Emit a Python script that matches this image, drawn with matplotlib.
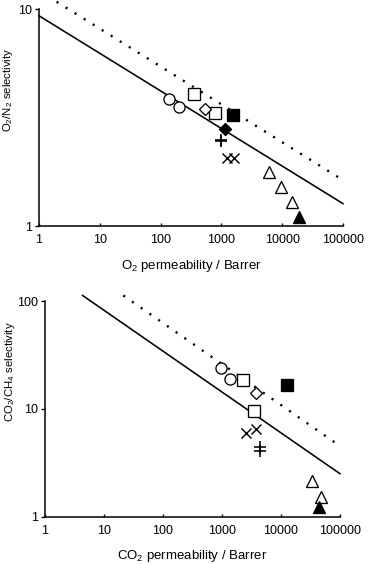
import matplotlib
matplotlib.use('Agg')
from matplotlib import pyplot as plt
from matplotlib.ticker import FixedLocator, FuncFormatter, NullLocator

plt.rcParams['font.family'] = ['Liberation Sans', 'DejaVu Sans']
plt.rcParams['mathtext.fontset'] = 'custom'
plt.rcParams['mathtext.rm'] = 'Liberation Sans'

# O2/N2 data (permeability in Barrer, selectivity)
o2_circ_x = [137, 203]
o2_circ_y = [3.84, 3.52]
o2_osq_x = [354, 785]
o2_osq_y = [4.05, 3.31]
o2_odia_x = [537]
o2_odia_y = [3.45]
o2_fsq_x = [1535]
o2_fsq_y = [3.25]
o2_fdia_x = [1147]
o2_fdia_y = [2.81]
o2_plus_x = [980, 980]
o2_plus_y = [2.50, 2.47]
o2_cross_x = [1222, 1624]
o2_cross_y = [2.06, 2.06]
o2_otri_x = [6050, 9560, 14660]
o2_otri_y = [1.78, 1.52, 1.29]
o2_ftri_x = [19100]
o2_ftri_y = [1.10]
o2_bound91_x = [1, 100000]
o2_bound91_y = [9.31, 1.27]
o2_bound08_x = [1.95, 100000]
o2_bound08_y = [10.8, 1.63]

# CO2/CH4 data
co2_circ_x = [950, 1367]
co2_circ_y = [23.8, 18.8]
co2_osq_x = [2297, 3485]
co2_osq_y = [18.5, 9.6]
co2_odia_x = [3770]
co2_odia_y = [13.9]
co2_fsq_x = [12480]
co2_fsq_y = [16.6]
co2_plus_x = [4400, 4400]
co2_plus_y = [4.40, 4.09]
co2_cross_x = [2552, 3770]
co2_cross_y = [6.0, 6.46]
co2_otri_x = [33950, 47640]
co2_otri_y = [2.16, 1.53]
co2_ftri_x = [44600]
co2_ftri_y = [1.22]
co2_bound91_x = [4.35, 100000]
co2_bound91_y = [113, 2.50]
co2_bound08_x = [21.3, 100000]
co2_bound08_y = [113, 4.52]

xticks = [1, 10, 100, 1000, 10000, 100000]


def draw(ax, d, yticks, ylim):
    ax.plot(d['b91'][0], d['b91'][1], '-', color='black', lw=1.15,
            clip_on=False, zorder=2)
    ax.plot(d['b08'][0], d['b08'][1], color='black', lw=1.7,
            linestyle=(0, (0.9, 3.6)), clip_on=False, zorder=2)
    kw = dict(linestyle='none', markeredgecolor='black', mew=0.95,
              clip_on=False, zorder=3)
    ax.plot(*d['circ'], marker='o', ms=8, mfc='white', **kw)
    ax.plot(*d['osq'], marker='s', ms=8, mfc='white', **kw)
    ax.plot(*d['odia'], marker='D', ms=5.8, mfc='white', **kw)
    ax.plot(*d['fsq'], marker='s', ms=8, mfc='black', **kw)
    if 'fdia' in d:
        ax.plot(*d['fdia'], marker='D', ms=5.8, mfc='black', **kw)
    ax.plot(*d['plus'], marker='+', ms=8.5, mew=1.15, color='black',
            linestyle='none', zorder=3)
    ax.plot(*d['cross'], marker='x', ms=7.5, mew=1.05, color='black',
            linestyle='none', zorder=3)
    ax.plot(*d['otri'], marker='^', ms=8.8, mfc='white', **kw)
    ax.plot(*d['ftri'], marker='^', ms=8.8, mfc='black', **kw)

    ax.set_xscale('log')
    ax.set_yscale('log')
    ax.set_xlim(1, 100000)
    ax.set_ylim(*ylim)
    ax.xaxis.set_major_locator(FixedLocator(xticks))
    ax.xaxis.set_minor_locator(NullLocator())
    ax.yaxis.set_major_locator(FixedLocator(yticks))
    ax.yaxis.set_minor_locator(NullLocator())
    fmt = FuncFormatter(lambda v, p: '%d' % round(v))
    ax.xaxis.set_major_formatter(fmt)
    ax.yaxis.set_major_formatter(fmt)
    ax.spines['top'].set_visible(False)
    ax.spines['right'].set_visible(False)
    for s in ('left', 'bottom'):
        ax.spines[s].set_linewidth(1.1)
    ax.tick_params(axis='x', direction='in', length=2.5, width=1,
                   labelsize=9, pad=6)
    ax.tick_params(axis='y', direction='out', length=3, width=1,
                   labelsize=9, pad=2)


fig = plt.figure(figsize=(3.68, 5.64), dpi=100)
ax1 = fig.add_axes([0.106, 0.599, 0.826, 0.385])
ax2 = fig.add_axes([0.122, 0.084, 0.802, 0.382])

draw(ax1, dict(circ=(o2_circ_x, o2_circ_y), osq=(o2_osq_x, o2_osq_y),
               odia=(o2_odia_x, o2_odia_y), fsq=(o2_fsq_x, o2_fsq_y),
               fdia=(o2_fdia_x, o2_fdia_y), plus=(o2_plus_x, o2_plus_y),
               cross=(o2_cross_x, o2_cross_y), otri=(o2_otri_x, o2_otri_y),
               ftri=(o2_ftri_x, o2_ftri_y), b91=(o2_bound91_x, o2_bound91_y),
               b08=(o2_bound08_x, o2_bound08_y)),
     [1, 10], (1, 10))
ax1.set_xlabel('O$_2$ permeability / Barrer', fontsize=9.5, labelpad=8)
ax1.set_ylabel('O$_2$/N$_2$ selectivity', fontsize=8.2, va='center')
ax1.yaxis.set_label_coords(-0.103, 0.627)

draw(ax2, dict(circ=(co2_circ_x, co2_circ_y), osq=(co2_osq_x, co2_osq_y),
               odia=(co2_odia_x, co2_odia_y), fsq=(co2_fsq_x, co2_fsq_y),
               plus=(co2_plus_x, co2_plus_y),
               cross=(co2_cross_x, co2_cross_y),
               otri=(co2_otri_x, co2_otri_y),
               ftri=(co2_ftri_x, co2_ftri_y),
               b91=(co2_bound91_x, co2_bound91_y),
               b08=(co2_bound08_x, co2_bound08_y)),
     [1, 10, 100], (1, 100))
ax2.set_xlabel('CO$_2$ permeability / Barrer', fontsize=9.5, labelpad=8)
ax2.set_ylabel('CO$_2$/CH$_4$ selectivity', fontsize=8.2, va='center')
ax2.yaxis.set_label_coords(-0.118, 0.671)

fig.savefig('out.png', dpi=100)
